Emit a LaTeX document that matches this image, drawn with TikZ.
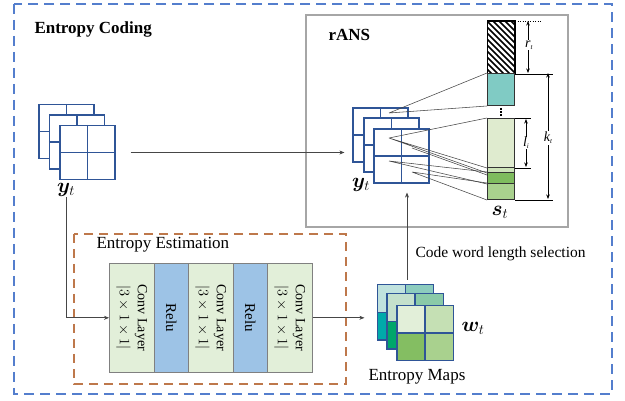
\documentclass[tikz,border=0pt]{standalone}
\usepackage{fontspec}
\setmainfont{Liberation Serif}
\usepackage{amsmath}
\usepackage{bm}
\usetikzlibrary{arrows.meta}
\definecolor{oblue}{RGB}{84,126,205}
\definecolor{gblue}{RGB}{47,85,151}
\definecolor{brn}{RGB}{190,120,75}
\definecolor{lgreen}{RGB}{226,239,217}
\definecolor{rblue}{RGB}{157,195,230}
\definecolor{tealA}{RGB}{128,203,196}
\definecolor{barlg}{RGB}{223,235,207}
\definecolor{bandA}{RGB}{205,228,185}
\definecolor{bandB}{RGB}{126,188,94}
\definecolor{bandC}{RGB}{169,209,142}
\definecolor{mA}{RGB}{192,226,222}
\definecolor{mB}{RGB}{140,204,190}
\definecolor{mC}{RGB}{0,170,170}
\definecolor{nA}{RGB}{196,224,204}
\definecolor{nB}{RGB}{138,202,168}
\definecolor{nC}{RGB}{0,166,106}
\definecolor{pA}{RGB}{226,239,217}
\definecolor{pB}{RGB}{197,224,180}
\definecolor{pC}{RGB}{132,190,98}
\definecolor{pD}{RGB}{169,209,142}
\definecolor{linegray}{RGB}{70,70,70}
\newcommand\gridnode[2]{%
  \node[gridl] (#1) at (#2) {};
  \draw[gblue, line width=1.2pt] (#1.north)--(#1.south) (#1.west)--(#1.east);}
\newcommand\mapnode[6]{%
  \node[gridl] (#1) at (#2) {};
  \fill[#3] (#1.north west) rectangle (#1.center);
  \fill[#4] (#1.north east) rectangle (#1.center);
  \fill[#5] (#1.south west) rectangle (#1.center);
  \fill[#6] (#1.south east) rectangle (#1.center);
  \draw[gblue, line width=1.2pt] (#1.north west) rectangle (#1.south east) (#1.north)--(#1.south) (#1.west)--(#1.east);}
\newcommand\itsub[2]{\textit{#1}\raisebox{-0.35ex}{\scriptsize\textit{#2}}}
\begin{document}
\begin{tikzpicture}[x=1pt,y=-1pt,
  gridl/.style={draw=gblue, line width=1.2pt, fill=white, minimum width=55pt, minimum height=54pt, inner sep=0pt},
  arr/.style={draw=linegray, line width=0.6pt, -{Stealth[length=5pt,width=4pt]}},
  fan/.style={draw=linegray, line width=0.55pt},
  seg/.style={draw=black, line width=1pt, minimum width=27pt, inner sep=0pt, anchor=north west},
  dim/.style={line width=0.6pt, {Stealth[length=4.5pt,width=3.5pt]}-{Stealth[length=4.5pt,width=3.5pt]}},
  blk/.style={draw=gray, line width=0.6pt, minimum height=109pt, inner sep=0pt, anchor=north west},
  title/.style={font=\bfseries\fontsize{17}{20}\selectfont},
  lbl/.style={font=\fontsize{17}{20}\selectfont},
  mlbl/.style={font=\fontsize{21}{24}\selectfont, inner sep=0pt},
  slbl/.style={font=\fontsize{14}{16}\selectfont, fill=white, inner sep=0.5pt}
]
\useasboundingbox (0,0) rectangle (625,401);
% outer frame
\draw[oblue, line width=1.1pt, dash pattern=on 10pt off 6pt] (14,4) rectangle (612,394);
\node[title, anchor=west] (ectitle) at (31,29) {Entropy Coding};
% rANS box
\draw[gray!70, line width=1.4pt] (306,15) rectangle (568,227);
\node[title, anchor=west] (ranstitle) at (325,35) {rANS};
% left stack
\gridnode{ya1}{66.5,131.5}
\gridnode{ya2}{77,142}
\gridnode{ya3}{87.5,152.5}
\node[mlbl] (ylbl) at (66,190) {$\bm{y}_t$};
% rANS stack
\gridnode{yb1}{380.5,135}
\gridnode{yb2}{391.5,145}
\gridnode{yb3}{401.5,156}
\node[mlbl] (ylbl2) at (361,185) {$\bm{y}_t$};
% bar
\node[seg, fill=white, minimum height=52pt] (hb) at (487,21) {};
\begin{scope}
  \clip (hb.north west) rectangle (hb.south east);
  \foreach \k in {-66,-60,...,30} \draw[line width=1.7pt] (487+\k,21) -- ++(60,60);
\end{scope}
\draw[black, line width=1pt] (hb.north west) rectangle (hb.south east);
\node[seg, fill=tealA, draw=black!80, minimum height=32pt] (tb) at (487,73) {};
\node[seg, fill=barlg, draw=black!80, minimum height=49pt] (lb) at (487,118) {};
\node[seg, fill=bandA, draw=black!80, minimum height=5pt] (b1) at (487,167) {};
\node[seg, fill=bandB, draw=black!80, minimum height=11pt] (b2) at (487,172) {};
\node[seg, fill=bandC, draw=black!80, minimum height=16pt] (b3) at (487,183) {};
\draw[line width=1.8pt, dash pattern=on 1.6pt off 1.6pt, shorten <=2pt, shorten >=1.5pt] (tb.south) -- (lb.north);
\node[mlbl] (slbl) at (500,212) {$\bm{s}_t$};
% dimension marks
\draw[line width=0.5pt, dotted] (hb.north east) -- ++(26,0);
\draw[line width=0.8pt] (hb.south east) -- ++(38,0);
\draw[line width=0.8pt] (b3.south east) -- ++(38,0);
\draw[line width=0.8pt] (lb.north east) -- ++(16,0);
\draw[line width=0.8pt] (lb.south east) -- ++(16,0);
\draw[dim] (528,21) -- (528,73);
\draw[dim] (548,73) -- (548,199);
\draw[dim] (526,119) -- (526,167);
\node[slbl] (rt) at (529,45) {\itsub{r}{t}};
\node[slbl] (kt) at (548,138) {\itsub{k}{t}};
\node[slbl] (li) at (526,143) {\itsub{l}{i}};
% fan lines
\coordinate (p1) at (389,113);
\coordinate (p2) at (389,138);
\coordinate (p3) at (412,148);
\coordinate (p4) at (389,161);
\coordinate (p5) at (412,172);
\draw[fan] (p1) -- (tb.north west) (p1) -- (tb.south west);
\draw[fan] (p2) -- (lb.north west) (p2) -- (lb.south west) (p2) -- (b1.south west);
\draw[fan] (p3) -- ([yshift=-2pt]b1.south west);
\draw[fan] (p4) -- (b2.north west) (p4) -- (b2.south west);
\draw[fan] (p5) -- (b3.north west) (p5) -- (b3.south west);
% arrow left stack -> rANS stack
\draw[arr, shorten <=15pt, shorten >=8pt] (ya3.east) -- (ya3.east -| yb1.west);
% entropy estimation
\draw[brn, line width=1.4pt, dash pattern=on 9pt off 6pt] (74,234) rectangle (346,384);
\node[lbl, anchor=west] (eetitle) at (93,245) {Entropy Estimation};
\node[blk, fill=lgreen, minimum width=45pt] (c1) at (109,263) {};
\node[blk, fill=rblue, minimum width=34pt] (r1) at (154,263) {};
\node[blk, fill=lgreen, minimum width=45pt] (c2) at (188,263) {};
\node[blk, fill=rblue, minimum width=34pt] (r2) at (233,263) {};
\node[blk, fill=lgreen, minimum width=45pt] (c3) at (267,263) {};
\foreach \c in {c1,c2,c3}
  \node[rotate=-90, align=center, font=\fontsize{14}{18}\selectfont] at (\c) {Conv Layer\\$|3\times1\times1|$};
\foreach \r in {r1,r2}
  \node[rotate=-90, font=\fontsize{15}{18}\selectfont] at (\r) {Relu};
\draw[arr] (ylbl.south) |- (c1.west);
% entropy maps
\mapnode{em1}{405.5,312.5}{mA}{mB}{mC}{mC}
\mapnode{em2}{415,321.5}{nA}{nB}{nC}{nC}
\mapnode{em3}{425,333}{pA}{pB}{pC}{pD}
\node[mlbl] (wlbl) at (473,328) {$\bm{w}_t$};
\node[lbl] (emlbl) at (417,377) {Entropy Maps};
\draw[arr, shorten >=13pt] (c3.east) -- (c3.east -| em1.west);
\coordinate (cw) at (407,280);
\draw[arr, shorten >=9pt] (cw) -- (cw |- yb3.south);
\node[font=\fontsize{15.5}{18}\selectfont, anchor=west] (cwl) at (412,254) {Code word length selection};
\end{tikzpicture}
\end{document}
